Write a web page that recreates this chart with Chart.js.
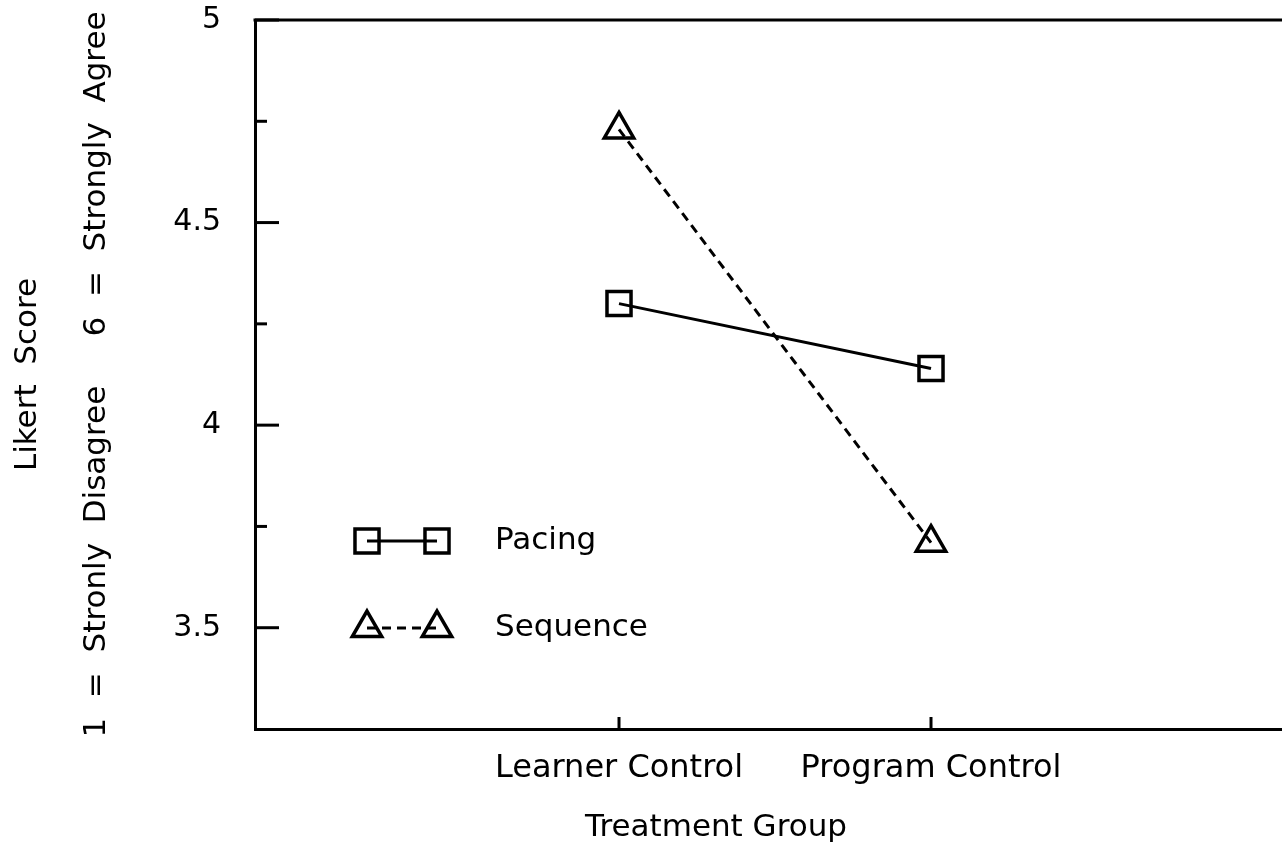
<!DOCTYPE html>
<html><head><meta charset="utf-8">
<script src="https://cdn.jsdelivr.net/npm/chart.js@4.4.1/dist/chart.umd.min.js"></script>
<style>html,body{margin:0;padding:0;background:#fff;} #wrap{width:1282px;height:843px;position:relative;}</style>
</head><body><div id="wrap"><canvas id="c"></canvas></div>
<script>
const categories = ['Learner Control', 'Program Control'];
const pacing = [4.30, 4.14];
const sequence = [4.73, 3.71];
const seriesNames = ['Pacing', 'Sequence'];
const yTickValues = [3.5, 4, 4.5, 5];
const yMinorValues = [3.75, 4.25, 4.75];
const yAxisTitle = ['Likert  Score', '1  =  Stronly  Disagree     6  =  Strongly  Agree'];
const xAxisTitle = 'Treatment Group';

const FONT = "'DejaVu Sans', sans-serif";

function markerPath(ctx, style, x, y, r) {
  ctx.beginPath();
  if (style === 'rect') {
    const s = r * Math.SQRT1_2;
    ctx.rect(x - s, y - s, 2 * s, 2 * s);
  } else {
    const w = r * Math.sin(Math.PI / 3);
    ctx.moveTo(x, y - r);
    ctx.lineTo(x + w, y + r / 2);
    ctx.lineTo(x - w, y + r / 2);
    ctx.closePath();
  }
}

const decor = {
  id: 'decor',
  afterDraw(chart) {
    const ctx = chart.ctx;
    const a = chart.chartArea;
    const ys = chart.scales.y, xs = chart.scales.x;
    ctx.save();
    ctx.strokeStyle = '#000';
    ctx.lineWidth = 3;
    ctx.beginPath();
    ctx.moveTo(a.left - 1.5, a.top);
    ctx.lineTo(a.right, a.top);
    ctx.stroke();
    yTickValues.forEach(v => {
      const p = ys.getPixelForValue(v);
      ctx.beginPath(); ctx.moveTo(a.left, p); ctx.lineTo(a.left + 24, p); ctx.stroke();
    });
    yMinorValues.forEach(v => {
      const p = ys.getPixelForValue(v);
      ctx.beginPath(); ctx.moveTo(a.left, p); ctx.lineTo(a.left + 12, p); ctx.stroke();
    });
    categories.forEach((c, i) => {
      const p = xs.getPixelForValue(i + 1);
      ctx.beginPath(); ctx.moveTo(p, a.bottom); ctx.lineTo(p, a.bottom - 12); ctx.stroke();
    });
    const lx1 = a.left + 112, lx2 = a.left + 182, tx = a.left + 240;
    const rows = [
      {y: a.top + 521, style: 'rect', dash: [], name: seriesNames[0]},
      {y: a.top + 608, style: 'triangle', dash: [9, 6], name: seriesNames[1]}
    ];
    rows.forEach(r => {
      ctx.lineWidth = 3;
      ctx.setLineDash(r.dash);
      ctx.beginPath(); ctx.moveTo(lx1, r.y); ctx.lineTo(lx2, r.y); ctx.stroke();
      ctx.setLineDash([]);
      ctx.lineWidth = 3.5;
      markerPath(ctx, r.style, lx1, r.y, 17); ctx.stroke();
      markerPath(ctx, r.style, lx2, r.y, 17); ctx.stroke();
      ctx.fillStyle = '#000';
      ctx.font = '31px ' + FONT;
      ctx.textAlign = 'left';
      ctx.textBaseline = 'middle';
      ctx.fillText(r.name, tx, r.y);
    });
    ctx.font = '31px ' + FONT;
    ctx.textAlign = 'center';
    ctx.textBaseline = 'middle';
    ctx.fillText(xAxisTitle, a.left + 461, a.bottom + 99);
    ctx.restore();
  }
};

const toPts = arr => arr.map((v, i) => ({x: i + 1, y: v}));

new Chart(document.getElementById('c'), {
  type: 'line',
  data: {
    datasets: [
      {
        label: seriesNames[0], data: toPts(pacing),
        borderColor: '#000', borderWidth: 3, pointStyle: 'rect', pointRadius: 17,
        pointBorderWidth: 3.5, pointBackgroundColor: 'rgba(0,0,0,0)', pointBorderColor: '#000',
        tension: 0, fill: false
      },
      {
        label: seriesNames[1], data: toPts(sequence),
        borderColor: '#000', borderWidth: 3, borderDash: [9, 6], pointStyle: 'triangle', pointRadius: 17,
        pointBorderWidth: 3.5, pointBackgroundColor: 'rgba(0,0,0,0)', pointBorderColor: '#000',
        tension: 0, fill: false
      }
    ]
  },
  options: {
    responsive: true, maintainAspectRatio: false, animation: false,
    layout: {autoPadding: false, padding: {top: 20, right: 0, left: 0, bottom: 0}},
    plugins: {legend: {display: false}, tooltip: {enabled: false}, title: {display: false}},
    elements: {line: {borderCapStyle: 'butt'}},
    scales: {
      x: {
        type: 'linear', min: -0.1667, max: 3.125,
        grid: {display: false, drawTicks: false},
        border: {display: true, color: '#000', width: 3},
        afterBuildTicks: s => { s.ticks = categories.map((c, i) => ({value: i + 1})); },
        ticks: {
          color: '#000', padding: 20, maxRotation: 0, autoSkip: false,
          font: {family: FONT, size: 32},
          callback: v => categories[v - 1] || ''
        },
        afterFit: s => { s.height = 114; s.paddingLeft = 0; s.paddingRight = 0; s.paddingTop = 0; s.paddingBottom = 0; }
      },
      y: {
        type: 'linear', min: 3.25, max: 5,
        grid: {display: false, drawTicks: false},
        border: {display: true, color: '#000', width: 3},
        afterBuildTicks: s => { s.ticks = yTickValues.map(v => ({value: v})); },
        ticks: {
          color: '#000', padding: 34, autoSkip: false,
          font: {family: FONT, size: 30},
          callback: v => String(v)
        },
        title: {
          display: true, text: yAxisTitle, color: '#000',
          font: {family: FONT, size: 31, lineHeight: 2.226},
          padding: {top: -7, bottom: 0}
        },
        afterFit: s => { s.width = 255; s.paddingLeft = 0; s.paddingRight = 0; s.paddingTop = 0; s.paddingBottom = 0; }
      }
    }
  },
  plugins: [decor]
});
</script>
</body></html>
